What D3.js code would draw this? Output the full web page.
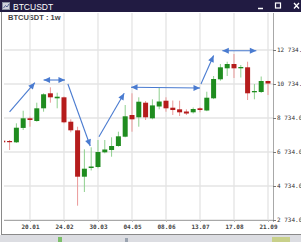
<!DOCTYPE html>
<html>
<head>
<meta charset="utf-8">
<script src="https://cdn.jsdelivr.net/npm/d3@7"></script>
<style>
body { margin: 0; background: #fff; overflow: hidden; }
svg { display: block; }
</style>
</head>
<body>
<div id="chart"></div>
<script>
// weekly candles, BTCUSDT
const weeks = ["2019-12-23","2019-12-30","2020-01-06","2020-01-13","2020-01-20","2020-01-27","2020-02-03","2020-02-10",
  "2020-02-17","2020-02-24","2020-03-02","2020-03-09","2020-03-16","2020-03-23","2020-03-30","2020-04-06","2020-04-13",
  "2020-04-20","2020-04-27","2020-05-04","2020-05-11","2020-05-18","2020-05-25","2020-06-01","2020-06-08","2020-06-15",
  "2020-06-22","2020-06-29","2020-07-06","2020-07-13","2020-07-20","2020-07-27","2020-08-03","2020-08-10","2020-08-17",
  "2020-08-24","2020-08-31","2020-09-07","2020-09-14","2020-09-21"];
const open  = [7399,7381,7304,8150,8716,8557,9304,10187,9892,9951,8516,8010,5281,5793,5851,6716,6851,7087,7634,8910,
  8775,9634,8716,9410,9751,9340,9245,9116,9069,9304,9175,9892,11010,11657,11910,11657,11716,10246,10263,10910];
const close = [7304,7310,8163,8716,8616,9304,10128,9951,9987,8481,8010,5281,5752,5881,6734,6881,7087,7657,8834,8657,
  9692,8775,9475,9704,9304,9204,9069,8998,9263,9204,9928,11028,11716,11910,11657,11734,10187,10322,10910,10763];
const high  = [7498,7440,8422,9163,8810,9634,10187,10540,10222,9998,8657,8222,6893,7010,7440,7440,7598,7928,9498,10187,
  9951,9733,9834,10540,9951,9763,9751,9245,9351,9363,10281,11204,11910,12045,12498,11851,12045,10734,11175,10928];
const low   = [7087,6851,7263,8028,8222,8516,9104,9634,9304,8422,7893,3575,4381,5646,5775,6657,6457,7046,7598,7928,
  8222,8616,8657,9245,9104,8910,8851,8910,8998,9069,9134,9845,10928,11204,11087,11116,9792,9834,10204,10087];

const tickDates = ["2020-01-20","2020-02-24","2020-03-30","2020-05-04","2020-06-08","2020-07-13","2020-08-17","2020-09-21"];
const priceTicks = [2734, 4734, 6734, 8734, 10734, 12734];

// hand drawn annotation arrows: [date, price] -> [date, price], double headed or not
const arrowFrom = [["2019-12-30",9100],["2020-02-03",10969],["2020-02-28",10734],["2020-03-31",7634],
  ["2020-05-03",10540],["2020-07-14",10734],["2020-08-05",12692]];
const arrowTo = [["2020-01-25",10810],["2020-02-25",10969],["2020-03-22",7087],["2020-04-26",10187],
  ["2020-07-13",10498],["2020-07-27",12410],["2020-09-09",12692]];
const arrowBoth = [false, true, false, false, true, false, true];

const W = 301, H = 242;
const parse = d3.utcParse("%Y-%m-%d");

const svg = d3.select("#chart").append("svg")
  .attr("width", W).attr("height", H)
  .attr("viewBox", [0, 0, W, H]);

const pLeft = 4, pRight = 273, pTop = 13, pBottom = 220;

const x = d3.scaleUtc()
  .domain([new Date(Date.UTC(2019, 11, 24, 6)), new Date(Date.UTC(2020, 8, 26, 3, 30))])
  .range([pLeft, pRight]);
const y = d3.scaleLinear()
  .domain([2734, 12734])
  .range([pBottom, 50]);

// window frame
svg.append("rect").attr("x", 0).attr("y", 0).attr("width", W).attr("height", H).attr("fill", "#fff");
svg.append("rect").attr("x", 0).attr("y", 235).attr("width", W).attr("height", 7).attr("fill", "#dcdde2");
svg.append("rect").attr("x", 58).attr("y", 237).attr("width", 4).attr("height", 5).attr("fill", "#7cbf6a");
svg.append("rect").attr("x", 125).attr("y", 238).attr("width", 3).attr("height", 4).attr("fill", "#9aa3b0");
svg.append("rect").attr("x", 272).attr("y", 237).attr("width", 18).attr("height", 5).attr("fill", "#c8d08a");
svg.append("line").attr("x1", 1.5).attr("x2", 1.5).attr("y1", 12).attr("y2", 234.5).attr("stroke", "#8a8a8a");
svg.append("line").attr("x1", 1).attr("x2", W).attr("y1", 234.5).attr("y2", 234.5).attr("stroke", "#8a8a8a");

// title bar
svg.append("rect").attr("x", 0).attr("y", 0).attr("width", W).attr("height", 12).attr("fill", "#211b42");
svg.append("rect").attr("x", 2.5).attr("y", 2.5).attr("width", 7).attr("height", 7)
  .attr("fill", "#cfd3dc").attr("stroke", "#8890a0");
svg.append("path").attr("d", "M3.5,8 L5.5,5.5 L7,7 L9,4").attr("fill", "none").attr("stroke", "#3a4a80").attr("stroke-width", 0.8);
svg.append("text").attr("x", 13).attr("y", 9.5)
  .attr("font-family", "Liberation Sans, Arial, sans-serif").attr("font-size", 8.5)
  .attr("fill", "#fff").text("BTCUSDT");
svg.append("line").attr("x1", 258).attr("x2", 263).attr("y1", 8.5).attr("y2", 8.5).attr("stroke", "#fff").attr("stroke-width", 1.5);
svg.append("rect").attr("x", 275.5).attr("y", 3).attr("width", 5).attr("height", 5).attr("fill", "none").attr("stroke", "#fff").attr("stroke-width", 1.2);
svg.append("path").attr("d", "M294,3 L299,8.5 M299,3 L294,8.5").attr("stroke", "#fff").attr("stroke-width", 1.3);

// chart caption
svg.append("text").attr("x", 8).attr("y", 20)
  .attr("font-family", "Liberation Sans, Arial, sans-serif").attr("font-size", 7.5).attr("font-weight", "bold")
  .attr("fill", "#444").text("BTCUSDT : 1w");

// grid
const grid = svg.append("g").attr("stroke", "#e4e4e4").attr("stroke-width", 1.3);
grid.selectAll(".h").data(priceTicks).join("line")
  .attr("x1", pLeft).attr("x2", pRight)
  .attr("y1", d => y(d)).attr("y2", d => y(d));
grid.selectAll(".v").data(tickDates).join("line")
  .attr("x1", d => x(parse(d))).attr("x2", d => x(parse(d)))
  .attr("y1", pTop).attr("y2", pBottom);

// candles
const data = weeks.map((w, i) => ({ date: parse(w), o: open[i], c: close[i], h: high[i], l: low[i] }));
svg.append("clipPath").attr("id", "plotclip")
  .append("rect").attr("x", pLeft).attr("y", pTop).attr("width", pRight - pLeft).attr("height", pBottom - pTop);
const candles = svg.append("g").attr("clip-path", "url(#plotclip)")
  .selectAll("g").data(data).join("g");
candles.append("line")
  .attr("x1", d => x(d.date)).attr("x2", d => x(d.date))
  .attr("y1", d => y(d.h)).attr("y2", d => y(d.l))
  .attr("stroke", d => d.c >= d.o ? "#8fd08f" : "#eb9a9a").attr("stroke-width", 1);
candles.append("rect")
  .attr("x", d => x(d.date) - 2.5).attr("width", 5)
  .attr("y", d => y(Math.max(d.o, d.c)))
  .attr("height", d => Math.max(1.2, Math.abs(y(d.o) - y(d.c))))
  .attr("fill", d => d.c >= d.o ? "#1f8c1f" : "#b51c1c");

// axes
const fmt = d3.format(",.2f");
svg.append("g").attr("transform", `translate(${pRight},0)`)
  .call(d3.axisRight(y).tickValues(priceTicks).tickSize(3).tickPadding(1)
    .tickFormat(d => fmt(d).replace(",", " ")))
  .call(g => g.select(".domain").attr("d", `M0.5,${pTop}V${pBottom + 2}`).attr("stroke", "#a8a8a8"))
  .call(g => g.selectAll(".tick line").attr("stroke", "#777"))
  .call(g => g.selectAll("text").attr("font-family", "DejaVu Sans Mono, monospace")
    .attr("font-size", 6).attr("fill", "#333"));

svg.append("g").attr("transform", `translate(0,${pBottom})`)
  .call(d3.axisBottom(x).tickValues(tickDates.map(parse)).tickSize(2).tickPadding(3)
    .tickFormat(d3.utcFormat("%d.%m")))
  .call(g => g.select(".domain").attr("d", `M${pLeft},0.5H${pRight}`).attr("stroke", "#a8a8a8"))
  .call(g => g.selectAll(".tick line").attr("stroke", "#bbb"))
  .call(g => g.selectAll("text").attr("font-family", "DejaVu Sans Mono, monospace")
    .attr("font-size", 6).attr("font-weight", "bold").attr("fill", "#444"));

// arrows
const blue = "#4a7bd0";
function head(px, py, fx, fy) {
  const a = Math.atan2(py - fy, px - fx), L = 6.5, Wd = 3;
  const bx = px - L * Math.cos(a), by = py - L * Math.sin(a);
  return `M${px},${py}L${bx + Wd * Math.sin(a)},${by - Wd * Math.cos(a)}L${bx - Wd * Math.sin(a)},${by + Wd * Math.cos(a)}Z`;
}
const ag = svg.append("g");
arrowFrom.forEach((f, i) => {
  const x1 = x(parse(f[0])), y1 = y(f[1]);
  const x2 = x(parse(arrowTo[i][0])), y2 = y(arrowTo[i][1]);
  ag.append("line").attr("x1", x1).attr("y1", y1).attr("x2", x2).attr("y2", y2)
    .attr("stroke", blue).attr("stroke-width", 1.1);
  ag.append("path").attr("d", head(x2, y2, x1, y1)).attr("fill", blue);
  if (arrowBoth[i]) ag.append("path").attr("d", head(x1, y1, x2, y2)).attr("fill", blue);
});
</script>
</body>
</html>
